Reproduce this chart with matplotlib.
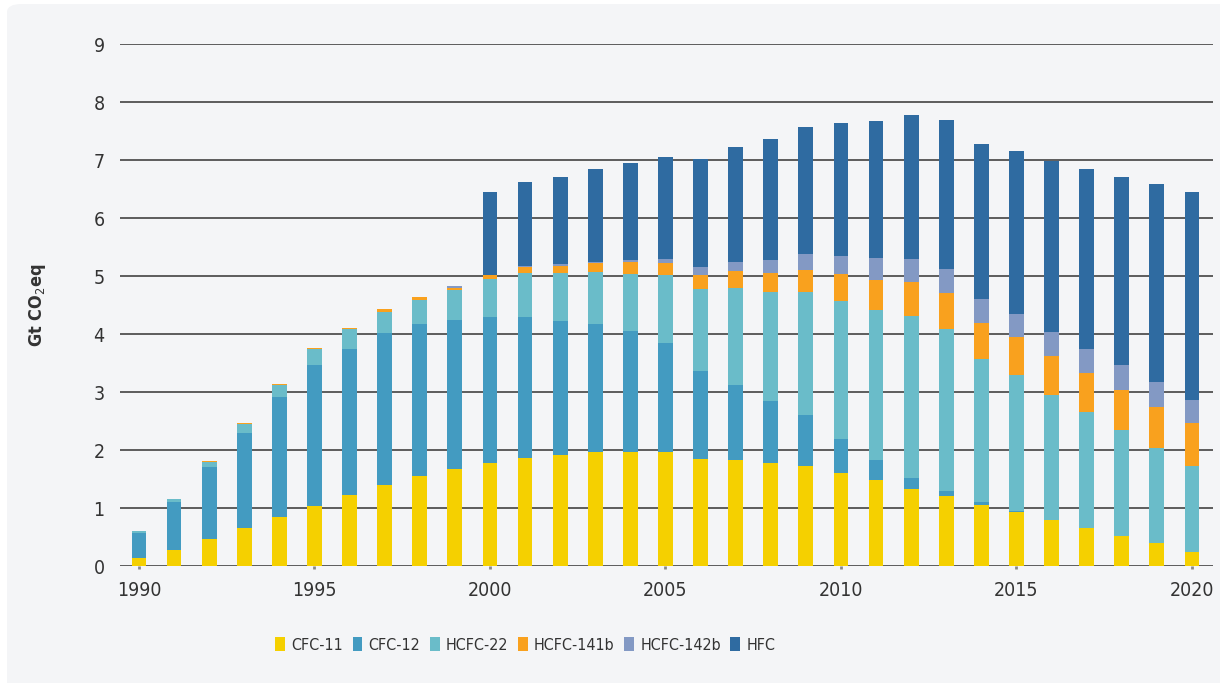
import matplotlib
matplotlib.use("Agg")
import matplotlib.pyplot as plt
from matplotlib.patches import FancyBboxPatch
from matplotlib import font_manager
import numpy as np

years = list(range(1990, 2021))

cfc11 = [0.13, 0.27, 0.46, 0.65, 0.84, 1.04, 1.22, 1.40, 1.55, 1.68, 1.78, 1.86, 1.92, 1.97, 1.97, 1.96,
         1.85, 1.82, 1.77, 1.73, 1.61, 1.48, 1.33, 1.20, 1.06, 0.93, 0.79, 0.65, 0.52, 0.39, 0.25]
cfc12 = [0.44, 0.83, 1.24, 1.65, 2.07, 2.42, 2.53, 2.61, 2.63, 2.57, 2.51, 2.44, 2.30, 2.21, 2.08, 1.88,
         1.51, 1.30, 1.07, 0.88, 0.58, 0.35, 0.18, 0.09, 0.05, 0.01, 0.0, 0.0, 0.0, 0.0, 0.0]
hcfc22 = [0.03, 0.05, 0.09, 0.15, 0.21, 0.29, 0.34, 0.37, 0.41, 0.51, 0.66, 0.76, 0.84, 0.89, 0.99, 1.18,
          1.41, 1.68, 1.89, 2.12, 2.38, 2.58, 2.80, 2.80, 2.46, 2.36, 2.16, 2.00, 1.82, 1.64, 1.47]
hcfc141b = [0.0, 0.01, 0.02, 0.02, 0.02, 0.01, 0.01, 0.05, 0.04, 0.04, 0.06, 0.09, 0.12, 0.16, 0.20, 0.21,
            0.25, 0.28, 0.33, 0.38, 0.46, 0.52, 0.58, 0.62, 0.62, 0.65, 0.67, 0.68, 0.70, 0.72, 0.74]
hcfc142b = [0.0, 0.0, 0.0, 0.0, 0.0, 0.0, 0.0, 0.0, 0.01, 0.02, 0.01, 0.02, 0.02, 0.02, 0.03, 0.06,
            0.13, 0.17, 0.22, 0.27, 0.32, 0.38, 0.41, 0.41, 0.41, 0.40, 0.41, 0.42, 0.42, 0.42, 0.41]
hfc = [0.0, 0.0, 0.0, 0.0, 0.0, 0.0, 0.0, 0.0, 0.0, 0.0, 1.42, 1.45, 1.51, 1.60, 1.68, 1.77,
       1.86, 1.98, 2.08, 2.19, 2.28, 2.37, 2.47, 2.57, 2.68, 2.80, 2.95, 3.09, 3.25, 3.41, 3.58]

series = ["CFC-11", "CFC-12", "HCFC-22", "HCFC-141b", "HCFC-142b", "HFC"]
colors = ["#F5D000", "#439BC1", "#6ABCC9", "#F9A11E", "#8399C4", "#2F6BA1"]

# condensed face if the system has one
has_condensed = any(f.name == "DejaVu Sans" and f.stretch == "condensed"
                    for f in font_manager.fontManager.ttflist)
plt.rcParams["font.family"] = ["DejaVu Sans"]
if has_condensed:
    plt.rcParams["font.stretch"] = "condensed"

text_color = "#333333"
bg = "#F4F5F7"

fig = plt.figure(figsize=(12.2, 6.83), dpi=100)
fig.patch.set_facecolor("white")
fig.patches.append(FancyBboxPatch((7 / 1220, -0.1), 1.2, 1.1 - 4 / 683, boxstyle="round,pad=0,rounding_size=0.012",
                                  transform=fig.transFigure, facecolor=bg, edgecolor="none", zorder=-10))

ax = fig.add_axes([120 / 1220, 1 - 566 / 683, (1213 - 120) / 1220, (566 - 44) / 683])
ax.set_facecolor("none")

bottom = np.zeros(len(years))
for name, vals, col in zip(series, [cfc11, cfc12, hcfc22, hcfc141b, hcfc142b, hfc], colors):
    v = np.array(vals)
    ax.bar(years, v, width=0.42, bottom=bottom, color=col, label=name, zorder=3, linewidth=0)
    bottom += v

ax.set_ylim(0, 9)
ax.set_xlim(1989.46, 2020.6)
ax.set_yticks(range(0, 10))
ax.set_xticks(range(1990, 2021, 5))
for y in range(0, 10):
    ax.axhline(y, color="#333333", linewidth=1.1, zorder=1)
for s in ax.spines.values():
    s.set_visible(False)

ax.tick_params(axis="y", length=0, pad=11, labelsize=14, labelcolor=text_color)
ax.tick_params(axis="x", length=2.5, width=2, color="#888888", pad=8, labelsize=14, labelcolor=text_color,
               direction="out")

ax.set_ylabel("Gt CO$_2$eq", fontsize=13, fontweight="bold", color=text_color, labelpad=0)
ax.yaxis.set_label_coords(-0.066, 0.5)

fig.legend(loc="center left", bbox_to_anchor=(261 / 1220, 1 - 645 / 683), ncol=6, frameon=False,
           fontsize=11.5, handlelength=0.6, handleheight=0.9, handletextpad=0.4, columnspacing=0.6,
           labelcolor=text_color)

fig.savefig("out.png", dpi=100, facecolor=fig.get_facecolor())
